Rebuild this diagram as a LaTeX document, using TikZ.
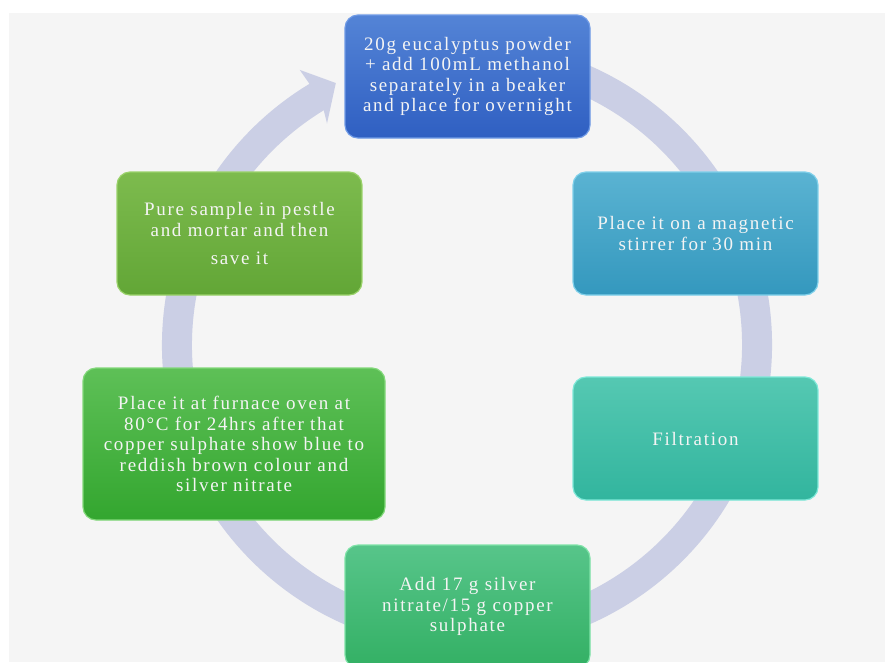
\documentclass[tikz,border=0pt]{standalone}
\usepackage{fontspec}
\setmainfont{Liberation Serif}
\newfontfamily\boxfont{Liberation Serif}[LetterSpace=9]
\usetikzlibrary{positioning}
\definecolor{bgcol}{HTML}{F5F5F5}
\definecolor{ringcol}{HTML}{CBCFE5}
\definecolor{boxtext}{HTML}{F4F4F4}

\begin{document}
\begin{tikzpicture}[x=1pt, y=-1pt, on grid,
  stepbox/.style = {rounded corners=13pt, minimum width=245pt, minimum height=123pt,
    text width=238pt, inner sep=0pt, align=center, text=boxtext, line width=1.2pt,
    font=\boxfont\fontsize{19}{20.5}\selectfont},
  ring/.style = {draw=ringcol, line width=30pt}]
\clip (0,0) rectangle (885,662);
\fill[white] (0,0) rectangle (885,662);
\fill[bgcol] (9,13) rectangle (885,662);
% cycle arrow behind the boxes
\coordinate (c) at (467,345);
\draw[ring] (c) ++(80:290pt) arc[start angle=80, end angle=-239, radius=290pt];
\fill[ringcol] (c) +(116.6:293pt) -- +(121.3:322pt) -- +(121.1:305pt) -- +(121.4:275pt) -- +(122.3:262pt) -- cycle;
% steps
\node[stepbox, top color={rgb,255:red,84;green,132;blue,214}, bottom color={rgb,255:red,47;green,95;blue,194}, draw={rgb,255:red,112;green,155;blue,230}] (soak) at (467.5,76.5) {20g eucalyptus powder\\+ add 100mL methanol\\separately in a beaker\\and place for overnight};
\node[stepbox, top color={rgb,255:red,90;green,179;blue,210}, bottom color={rgb,255:red,52;green,152;blue,190}, draw={rgb,255:red,127;green,208;blue,234}] (stir) [below right=157pt and 228pt of soak] {Place it on a magnetic\\stirrer for 30 min};
\node[stepbox, top color={rgb,255:red,85;green,200;blue,178}, bottom color={rgb,255:red,50;green,181;blue,158}, draw={rgb,255:red,126;green,232;blue,216}] (filter) [below=205pt of stir] {Filtration};
\node[stepbox, top color={rgb,255:red,87;green,197;blue,138}, bottom color={rgb,255:red,51;green,176;blue,100}, draw={rgb,255:red,127;green,227;blue,168}] (mix) [below left=168pt and 228pt of filter] {Add 17 g silver\\nitrate/15 g copper\\sulphate};
\node[stepbox, minimum width=302pt, minimum height=152pt, text width=295pt, top color={rgb,255:red,94;green,192;blue,87}, bottom color={rgb,255:red,51;green,166;blue,47}, draw={rgb,255:red,130;green,216;blue,122}] (oven) [above left=162.5pt and 233.5pt of mix] {Place it at furnace oven at\\80°C for 24hrs after that\\copper sulphate show blue to\\reddish brown colour and\\silver nitrate};
\node[stepbox, top color={rgb,255:red,125;green,187;blue,78}, bottom color={rgb,255:red,98;green,166;blue,54}, draw={rgb,255:red,154;green,210;blue,106}] (grind) [below left=157pt and 228pt of soak] {Pure sample in pestle\\and mortar and then\\[8pt]save it};
\end{tikzpicture}
\end{document}
